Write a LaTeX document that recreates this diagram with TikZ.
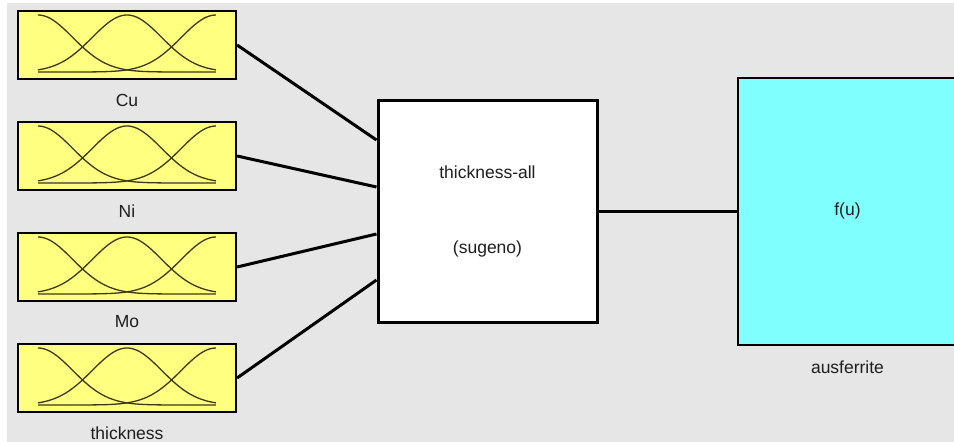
\documentclass[tikz,border=0pt]{standalone}
\usepackage{fontspec}
\setmainfont{Liberation Sans}
\definecolor{bggray}{RGB}{230,230,230}
\definecolor{mfyellow}{RGB}{255,255,128}
\definecolor{mfcyan}{RGB}{128,255,255}
\definecolor{mfcurve}{RGB}{60,56,24}
\definecolor{labgray}{RGB}{30,30,30}
\tikzset{
  inbox/.style={draw=black, line width=2.2pt, fill=mfyellow, minimum width=218pt, minimum height=68pt, inner sep=0pt},
  corebox/.style={draw=black, line width=3pt, fill=white, minimum width=219pt, minimum height=222pt, inner sep=0pt, align=center, text=labgray},
  outbox/.style={draw=black, line width=2pt, fill=mfcyan, minimum width=219pt, minimum height=267pt, inner sep=0pt, text=labgray},
  lab/.style={text=labgray, inner sep=0pt},
  wire/.style={line width=3pt, black},
  mfline/.style={mfcurve, line width=1.3pt},
}
\begin{document}
\begin{tikzpicture}[x=1pt, y=-1pt, font=\fontsize{17.5}{21}\selectfont]
\useasboundingbox (0,0) rectangle (954,442);
\clip (0,0) rectangle (954,442);
\fill[white] (0,0) rectangle (954,442);
\fill[bggray] (7,3) rectangle (954,442);
% inputs
\foreach \i/\y/\t in {1/45/Cu, 2/156/Ni, 3/267/Mo, 4/378/thickness}{
  \node[inbox] (in\i) at (127,\y) {};
  \node[lab] (lab\i) at (127,\y+55) {\t};
  \begin{scope}[shift={(in\i.center)}]
    \draw[mfline] plot[domain=-1:1, samples=60, smooth] ({89*\x}, {27-57*exp(-((\x+1)^2)/0.304)});
    \draw[mfline] plot[domain=-1:1, samples=60, smooth] ({89*\x}, {27-57*exp(-((\x)^2)/0.304)});
    \draw[mfline] plot[domain=-1:1, samples=60, smooth] ({89*\x}, {27-57*exp(-((\x-1)^2)/0.304)});
  \end{scope}
}
% core
\node[corebox] (core) at (487.5,211) {thickness-all\\[54pt](sugeno)};
% output
\node[outbox] (out) at (847.5,211) {f(u)};
\node[lab] (outlab) at (847.5,367) {ausferrite};
% wires
\draw[wire] (in1.east) -- ([yshift=71pt]core.west);
\draw[wire] (in2.east) -- ([yshift=24pt]core.west);
\draw[wire] (in3.east) -- ([yshift=-23pt]core.west);
\draw[wire] (in4.east) -- ([yshift=-69pt]core.west);
\draw[wire] (core.east) -- (out.west);
\end{tikzpicture}
\end{document}
